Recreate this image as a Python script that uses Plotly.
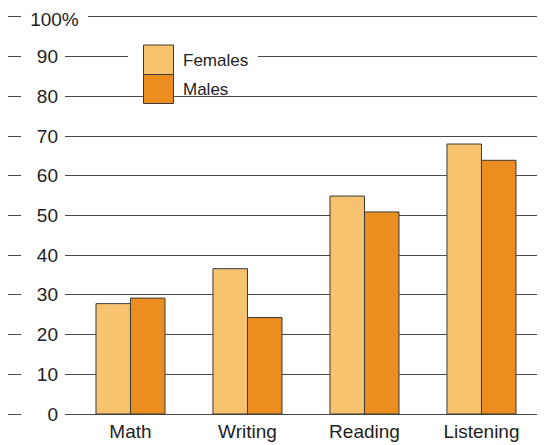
import plotly.graph_objects as go

categories = ["Math", "Writing", "Reading", "Listening"]
females = [27.8, 36.6, 54.9, 68.0]
males = [29.2, 24.3, 50.9, 63.9]
y_ticks = [0, 10, 20, 30, 40, 50, 60, 70, 80, 90, 100]
y_tick_labels = ["0", "10", "20", "30", "40", "50", "60", "70", "80", "90", "100%"]

# page has an 8px body margin; work in reference-pixel coords and offset
OFF = 8
W, H = 545 - OFF, 445 - OFF
# plot area in reference pixels: x 8..545, y 15..416
PX0, PX1, PY0, PY1 = 8, 545, 15, 416
ML, MR = PX0 - OFF, (545 - PX1)
MT, MB = PY0 - OFF, (445 - PY1)
PW = PX1 - PX0
PH = PY1 - PY0

def px2x(px):
    return (px - PX0) / PW

def px2y(py):
    return (PY1 - py) / PH

LIGHT = "#F8C36F"
DARK = "#EB8D1F"
EDGE = "#3a3a3a"
TEXT = "#222222"
GRID = "#4a4a4a"
FONT = "Liberation Sans, Arial, Helvetica, sans-serif"

fig = go.Figure()
fig.add_trace(go.Bar(x=categories, y=females, name="Females",
                     marker=dict(color=LIGHT, line=dict(color=EDGE, width=1))))
fig.add_trace(go.Bar(x=categories, y=males, name="Males",
                     marker=dict(color=DARK, line=dict(color=EDGE, width=1))))

annotations = []
for v, lab in zip(y_ticks, y_tick_labels):
    left = 21
    if lab.endswith("%"):
        right = 88
        ann = dict(width=right - left, borderpad=0, align="center", yshift=-3)
    else:
        right, pad = 65, 7
        ann = dict(width=right - left - 2 * pad, borderpad=pad, align="right")
    annotations.append(dict(
        x=px2x(left), xref="paper", y=v, yref="y",
        xanchor="left", yanchor="middle",
        text=lab, showarrow=False, borderwidth=0,
        bgcolor="white", font=dict(size=19, color=TEXT, family=FONT), **ann))

annotations.append(dict(x=px2x(181), xref="paper", y=px2y(60.5), yref="paper",
                        xanchor="left", yanchor="middle", text="Females", showarrow=False,
                        font=dict(size=17, color=TEXT, family=FONT)))
annotations.append(dict(x=px2x(181), xref="paper", y=px2y(89.5), yref="paper",
                        xanchor="left", yanchor="middle", text="Males", showarrow=False,
                        font=dict(size=17, color=TEXT, family=FONT)))

shapes = [
    dict(type="rect", xref="paper", yref="paper", x0=px2x(128), x1=px2x(258),
         y0=px2y(66), y1=px2y(55), fillcolor="white", line=dict(width=0), layer="above"),
    dict(type="rect", xref="paper", yref="paper", x0=px2x(143.5), x1=px2x(173.5),
         y0=px2y(74.5), y1=px2y(45), fillcolor=LIGHT, line=dict(color=EDGE, width=1), layer="above"),
    dict(type="rect", xref="paper", yref="paper", x0=px2x(143.5), x1=px2x(173.5),
         y0=px2y(103.5), y1=px2y(74.5), fillcolor=DARK, line=dict(color=EDGE, width=1), layer="above"),
]

fig.update_layout(
    width=W, height=H,
    margin=dict(l=ML, r=MR, t=MT, b=MB, pad=0),
    paper_bgcolor="white", plot_bgcolor="white",
    barmode="group", bargap=0.41, bargroupgap=0,
    showlegend=False,
    font=dict(family=FONT, color=TEXT),
    xaxis=dict(range=[-1.047, 3.543], showgrid=False, zeroline=False, showline=False,
               ticks="", ticklabelstandoff=2,
               tickfont=dict(size=19, color=TEXT, family=FONT), fixedrange=True),
    yaxis=dict(range=[-0.5, 100.5], tickvals=y_ticks, showticklabels=False,
               showgrid=True, gridcolor=GRID, gridwidth=1,
               zeroline=False, showline=False, ticks="", fixedrange=True),
    annotations=annotations,
    shapes=shapes,
)

fig.write_html("out.html")
